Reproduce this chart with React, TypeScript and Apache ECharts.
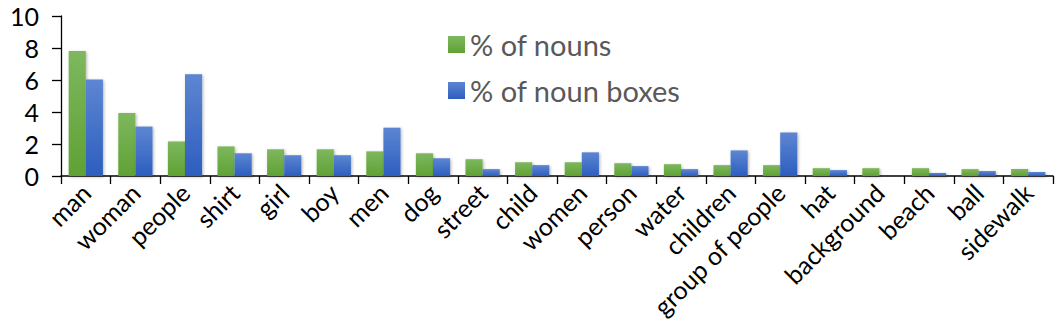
import React, { useEffect, useRef } from "react";
import * as echarts from "echarts";

const categories = [
  "man", "woman", "people", "shirt", "girl", "boy", "men", "dog", "street", "child",
  "women", "person", "water", "children", "group of people", "hat", "background", "beach", "ball", "sidewalk",
];
const nounsPct = [7.82, 3.93, 2.16, 1.85, 1.67, 1.67, 1.54, 1.42, 1.05, 0.86, 0.86, 0.8, 0.74, 0.68, 0.68, 0.49, 0.49, 0.49, 0.43, 0.43];
const nounBoxesPct = [6.03, 3.09, 6.36, 1.42, 1.3, 1.3, 3.02, 1.11, 0.43, 0.68, 1.48, 0.62, 0.43, 1.6, 2.72, 0.37, 0, 0.19, 0.31, 0.25];
const seriesNames = ["% of nouns", "% of noun boxes"];

const FONT = "Lato";

export default function App() {
  const ref = useRef<HTMLDivElement>(null);
  useEffect(() => {
    if (!ref.current) return;
    const chart = echarts.init(ref.current, undefined, { renderer: "svg" });
    const grad = (top: string, bottom: string) =>
      new echarts.graphic.LinearGradient(0, 0, 0, 1, [
        { offset: 0, color: top },
        { offset: 1, color: bottom },
      ]);
    const shadow = { shadowBlur: 3, shadowColor: "rgba(0,0,0,0.3)", shadowOffsetX: 1, shadowOffsetY: 1 };
    chart.setOption({
      animation: false,
      textStyle: { fontFamily: FONT },
      grid: { left: 61, right: 5, top: 16, bottom: 154, containLabel: false },
      legend: {
        orient: "vertical",
        left: 443,
        top: 30,
        padding: [0, 5, 0, 5],
        itemWidth: 17,
        itemHeight: 17,
        itemGap: 17,
        icon: "rect",
        textStyle: { fontFamily: FONT, fontSize: 29, lineHeight: 28, color: "#595959", padding: [0, 0, 0, 0] },
        data: seriesNames,
      },
      xAxis: {
        type: "category",
        data: categories,
        axisLine: { show: true, lineStyle: { color: "#000", width: 1.5 } },
        axisTick: { show: true, length: 8, lineStyle: { color: "#000", width: 1.3 } },
        axisLabel: { interval: 0, rotate: 45, fontSize: 25, color: "#000", fontFamily: FONT, margin: 12 },
        splitLine: { show: false },
      },
      yAxis: {
        type: "value",
        min: 0,
        max: 10,
        interval: 2,
        axisLine: { show: true, lineStyle: { color: "#000", width: 1.3 } },
        axisTick: { show: true, length: 9, lineStyle: { color: "#000", width: 1.3 } },
        axisLabel: { fontSize: 25, lineHeight: 24, color: "#000", fontFamily: FONT, margin: 22 },
        splitLine: { show: false },
      },
      series: [
        {
          name: seriesNames[0],
          type: "bar",
          data: nounsPct,
          barGap: "0%",
          barCategoryGap: "31%",
          itemStyle: { color: grad("#7db85e", "#60a135"), ...shadow },
        },
        {
          name: seriesNames[1],
          type: "bar",
          data: nounBoxesPct,
          barGap: "0%",
          barCategoryGap: "31%",
          itemStyle: { color: grad("#5d86d2", "#2d5ebf"), ...shadow },
        },
      ],
    });
    return () => chart.dispose();
  }, []);
  return <div ref={ref} style={{ position: "absolute", left: 0, top: 0, width: 1058, height: 330 }} />;
}
